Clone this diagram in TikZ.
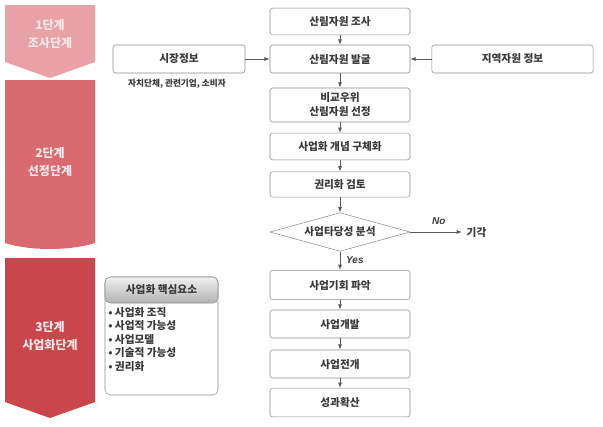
\documentclass[tikz,border=0pt]{standalone}
\usepackage{fontspec}
\setmainfont{Noto Sans CJK KR}
\newfontfamily\latinfont{Liberation Sans}
\usetikzlibrary{arrows.meta,shapes.geometric,positioning}
\definecolor{stageA}{HTML}{E8A1A7}
\definecolor{stageB}{HTML}{D96A70}
\definecolor{stageC}{HTML}{C8464C}
\definecolor{stagetext}{HTML}{FBE9EA}
\definecolor{boxline}{HTML}{8C8C8C}
\definecolor{ink}{HTML}{3A3A3A}
\tikzset{
	flowbox/.style={draw=boxline, fill=white, rounded corners=2pt, minimum width=105pt, minimum height=20.5pt, inner sep=1pt, align=center, text=ink, font=\fontsize{8}{10.5}\selectfont\bfseries},
	stagelabel/.style={text=stagetext, align=center, font=\fontsize{9}{13.5}\selectfont\bfseries},
	link/.style={draw=black!65, line width=0.6pt, -{Latex[length=4pt,width=3pt]}},
	answer/.style={text=ink, font=\latinfont\fontsize{7.5}{9}\selectfont\bfseries\itshape}
}
\begin{document}
\begin{tikzpicture}[x=0.75pt,y=-0.75pt]
	\useasboundingbox (0,0) rectangle (603,426);
	
	% stages
	\fill[stageA] (5,5) -- (95,5) -- (95,62) -- (50,78) -- (5,62) -- cycle;
	\fill[stageB] (5,80) -- (95,80) -- (95,243) .. controls (70,251) and (30,251) .. (5,243) -- cycle;
	\fill[stageC] (5,258) -- (95,258) -- (95,402) -- (50,418) -- (5,402) -- cycle;
	\node[stagelabel] (st1) at (50,34) {1단계\\조사단계};
	\node[stagelabel] (st2) at (50,162) {2단계\\선정단계};
	\node[stagelabel] (st3) at (50,336) {3단계\\사업화단계};
	
	% main flow
	\node[flowbox, minimum height=20pt] (survey) at (340,21.5) {산림자원 조사};
	\node[flowbox, minimum height=21pt] (discover) at (340,59) {산림자원 발굴};
	\node[flowbox, minimum height=25.5pt] (select) at (340,105) {비교우위\\산림자원 선정};
	\node[flowbox, minimum height=20pt] (concept) at (340,146.5) {사업화 개념 구체화};
	\node[flowbox, minimum height=19pt] (rights) at (340,184.5) {권리화 검토};
	\node[draw=boxline, diamond, aspect=3.6, inner sep=0pt, minimum width=105pt, minimum height=29pt, text=ink, font=\fontsize{8}{10}\selectfont\bfseries] (check) at (340,232) {사업타당성 분석};
	\node[flowbox, minimum height=22pt] (chance) at (340,285) {사업기회 파악};
	\node[flowbox, minimum height=21pt] (develop) at (340,324) {사업개발};
	\node[flowbox, minimum height=21pt] (expand) at (340,364) {사업전개};
	\node[flowbox, minimum height=21.5pt] (spread) at (340,402.5) {성과확산};
	
	% side inputs
	\node[flowbox, minimum width=99pt, minimum height=21pt] (market) at (179,59) {시장정보};
	\node[text=ink, font=\fontsize{6.5}{8}\selectfont\bfseries] (actors) at (177,83.5) {자치단체, 관련기업, 소비자};
	\node[flowbox, minimum width=121pt, minimum height=21pt] (local) at (512.5,59) {지역자원 정보};
	
	% reject branch
	\coordinate (rejectend) at (462,232);
	\node[text=ink, font=\fontsize{8}{10}\selectfont\bfseries, anchor=west] (reject) at (rejectend) {기각};
	
	\draw[link] (survey) -- (discover);
	\draw[link] (discover) -- (select);
	\draw[link] (select) -- (concept);
	\draw[link] (concept) -- (rights);
	\draw[link] (rights) -- (check);
	\draw[link] (check) -- (chance) node[answer, pos=0.45, right=1pt]{Yes};
	\draw[link] (chance) -- (develop);
	\draw[link] (develop) -- (expand);
	\draw[link] (expand) -- (spread);
	\draw[link] (market) -- (discover);
	\draw[link] (local) -- (discover);
	\draw[link] (check.east) -- (rejectend) node[answer, pos=0.55, above=2pt]{No};
	
	% key elements
	\node[draw=boxline, fill=white, rounded corners=4pt, minimum width=84.75pt, minimum height=88.5pt, inner sep=0pt] (keybox) at (161.5,336) {};
	\shade[top color=gray!12, bottom color=gray!60, rounded corners=4pt, draw=boxline] (105,303) -- (105,277) -- (218,277) -- (218,303) -- cycle;
	\node[text=ink, font=\fontsize{8}{10}\selectfont\bfseries] (keyhead) at (161.5,290) {사업화 핵심요소};
	\node[text=ink, align=left, anchor=north west, inner sep=0pt, font=\fontsize{8}{10.1}\selectfont\bfseries] (keylist) at (108,307) {• 사업화 조직\\• 사업적 가능성\\• 사업모델\\• 기술적 가능성\\• 권리화};
\end{tikzpicture}
\end{document}
